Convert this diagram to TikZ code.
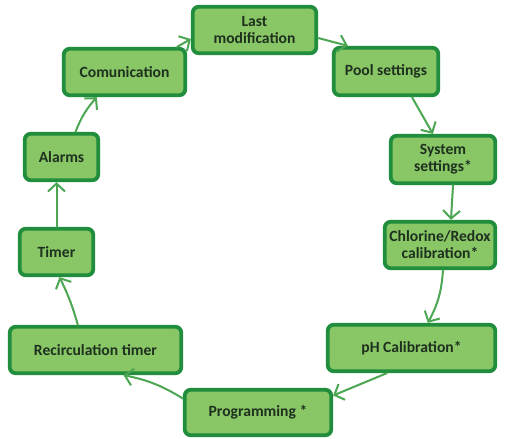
\documentclass[tikz,border=0pt]{standalone}
\usepackage{fontspec}
\setmainfont{Carlito}
\usetikzlibrary{arrows.meta,calc}
\definecolor{boxfill}{RGB}{136,198,102}
\definecolor{boxdraw}{RGB}{32,142,60}
\definecolor{arrowcol}{RGB}{76,166,82}
\definecolor{txt}{RGB}{30,48,30}
\begin{document}
\begin{tikzpicture}[x=1pt,y=-1pt,
  stepbox/.style={draw=boxdraw, fill=boxfill, line width=3.8pt, rounded corners=6pt,
    inner sep=0pt, align=center, text=txt, font=\fontsize{15.6}{17}\selectfont\bfseries},
  flow/.style={draw=arrowcol, line width=2pt, line cap=round,
    -{Straight Barb[length=8pt,width=17pt,line width=2pt]}}]
\useasboundingbox (0,0) rectangle (525,439);
\fill[white] (0,0) rectangle (525,439);
\node[stepbox, minimum width=123.5pt, minimum height=46.5pt] (last) at (254.5,30) {Last\\modification};
\node[stepbox, minimum width=104.5pt, minimum height=47.5pt] (pool) at (386,71.5) {Pool settings};
\node[stepbox, minimum width=104.5pt, minimum height=47.5pt] (sys) at (443,159.5) {System\\settings*};
\node[stepbox, minimum width=110.5pt, minimum height=46.5pt] (chl) at (440,245) {Chlorine/Redox\\calibration*};
\node[stepbox, minimum width=167.5pt, minimum height=46.5pt] (ph) at (411.5,348) {pH Calibration*};
\node[stepbox, minimum width=146.5pt, minimum height=45.5pt] (prog) at (258,412.5) {Programming *};
\node[stepbox, minimum width=171.5pt, minimum height=46.5pt] (recirc) at (95.5,350) {Recirculation timer};
\node[stepbox, minimum width=73.5pt, minimum height=46.5pt] (timer) at (56.5,252) {Timer};
\node[stepbox, minimum width=73.5pt, minimum height=46.5pt] (alarms) at (61.5,157) {Alarms};
\node[stepbox, minimum width=121.5pt, minimum height=46.5pt] (comm) at (124.5,72) {Comunication};

\draw[flow] ($(comm.north east)+(-10,0)$) -- ($(last.west)+(0,9)$);
\draw[flow] ($(last.east)+(0,8)$) -- ($(pool.north west)+(16,0)$);
\draw[flow] ($(pool.south)+(26,0)$) -- ($(sys.north west)+(44,0)$);
\draw[flow] ($(sys.south)+(10,0)$) -- ($(chl.north)+(11,0)$);
\draw[flow] ($(chl.south)+(3,0)$) to[bend left=12] ($(ph.north west)+(102,0)$);
\draw[flow] ($(ph.south west)+(61,0)$) -- ($(prog.east)+(0,-17)$);
\draw[flow] ($(prog.west)+(0,-14)$) to[bend right=10] ($(recirc.south)+(28,0)$);
\draw[flow] ($(recirc.north west)+(70,0)$) to[bend right=5] ($(timer.south)+(3,0)$);
\draw[flow] (timer.north) -- (timer.north |- alarms.south);
\draw[flow] ($(alarms.north)+(14,0)$) to[bend left=10] ($(comm.south west)+(35,0)$);
\end{tikzpicture}
\end{document}
